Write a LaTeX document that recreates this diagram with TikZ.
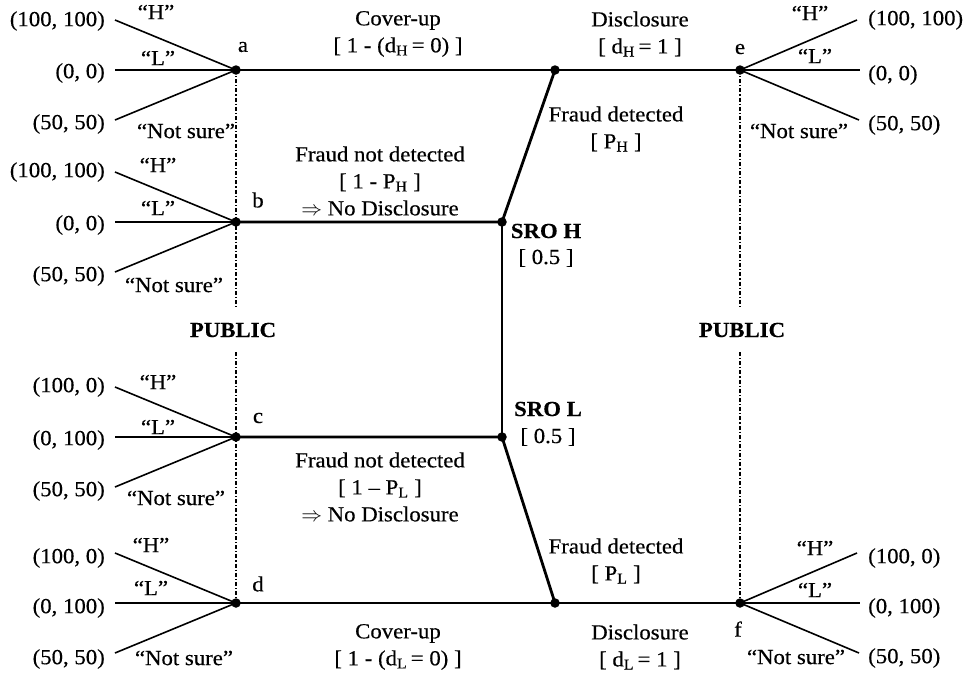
\documentclass[tikz,border=0pt]{standalone}
\usepackage{fontspec}
\usetikzlibrary{calc}
\setmainfont[FakeStretch=1.06,FakeBold=0.4]{Liberation Serif}
\newcommand{\sbs}[1]{\textsubscript{#1}}
\begin{document}
\begin{tikzpicture}[x=1pt,y=-1pt,
  dotn/.style={circle,fill=black,inner sep=0pt,minimum size=9.5pt},
  mainln/.style={line width=2.8pt},
  fanln/.style={line width=1.6pt},
  publn/.style={dash pattern=on 4pt off 2pt on 1.2pt off 2pt,line width=1.2pt},
  lbl/.style={font=\fontsize{21.5}{27}\selectfont,align=center,inner sep=0pt},
  bl/.style={lbl,font=\fontsize{21.5}{27}\selectfont\bfseries}]
\useasboundingbox (0,0) rectangle (970,678);
% decision nodes
\node[dotn] (a) at (236,70) {};
\node[dotn] (b) at (236,222) {};
\node[dotn] (c) at (236,437) {};
\node[dotn] (d) at (236,603) {};
\node[dotn] (e) at (740,70) {};
\node[dotn] (f) at (740,603) {};
\node[dotn] (ju) at (555,70) {};
\node[dotn] (sh) at (502,222) {};
\node[dotn] (sl) at (502,437) {};
\node[dotn] (jl) at (555,603) {};
% main tree
\draw[mainln] (a.center) -- (ju.center) -- (e.center);
\draw[mainln] (b.center) -- (sh.center) -- (ju.center);
\draw[mainln] (sh.center) -- (sl.center);
\draw[mainln] (c.center) -- (sl.center) -- (jl.center);
\draw[mainln] (d.center) -- (jl.center) -- (f.center);
% PUBLIC
\node[bl] (pubL) at (233,330) {PUBLIC};
\node[bl] (pubR) at (742,330) {PUBLIC};
\draw[publn] (a.center) -- (a.center |- 0,308);
\draw[publn] (a.center |- 0,352) -- (d.center);
\draw[publn] (e.center) -- (e.center |- 0,308);
\draw[publn] (e.center |- 0,352) -- (f.center);
% fans
\foreach \n in {a,b,c,d}{
  \coordinate (\n H) at ($(\n.center)+(-121,-50)$);
  \coordinate (\n L) at ($(\n.center)+(-121,0)$);
  \coordinate (\n N) at ($(\n.center)+(-121,50)$);
  \draw[fanln] (\n.center) -- (\n H);
  \draw[fanln] (\n.center) -- (\n L);
  \draw[fanln] (\n.center) -- (\n N);
}
\foreach \n in {e,f}{
  \coordinate (\n H) at ($(\n.center)+(117,-50)$);
  \coordinate (\n L) at ($(\n.center)+(120,0)$);
  \coordinate (\n N) at ($(\n.center)+(119,50)$);
  \draw[fanln] (\n.center) -- (\n H);
  \draw[fanln] (\n.center) -- (\n L);
  \draw[fanln] (\n.center) -- (\n N);
}
% node letters
\node[lbl] (la) at (243,47) {a};
\node[lbl] (lb) at (258,200) {b};
\node[lbl] (lc) at (258,418) {c};
\node[lbl] (ld) at (258,584) {d};
\node[lbl] (le) at (740,49) {e};
\node[lbl] (lf) at (738,629) {f};
% branch labels
\node[lbl] (cuH) at (398,34) {Cover-up\\{}[ 1 - (d\sbs{H}\,= 0) ]};
\node[lbl] (diH) at (640,34) {Disclosure\\{}[ d\sbs{H}\,= 1 ]};
\node[lbl] (fdH) at (616,129) {Fraud detected\\{}[ P\sbs{H} ]};
\node[lbl] (fnH) at (380,181) {Fraud not detected\\{}[ 1 - P\sbs{H} ]\\$\Rightarrow$ No Disclosure};
\node[bl] (srH) at (546,231) {SRO H};
\node[lbl] (prH) at (546,258) {[ 0.5 ]};
\node[bl] (srL) at (548,409) {SRO L};
\node[lbl] (prL) at (548,437) {[ 0.5 ]};
\node[lbl] (fnL) at (380,487) {Fraud not detected\\{}[ 1 – P\sbs{L} ]\\$\Rightarrow$ No Disclosure};
\node[lbl] (fdL) at (616,561) {Fraud detected\\{}[ P\sbs{L} ]};
\node[lbl] (cuL) at (398,647) {Cover-up\\{}[ 1 - (d\sbs{L}\,= 0) ]};
\node[lbl] (diL) at (640,647) {Disclosure\\{}[ d\sbs{L}\,= 1 ]};
% fan choice labels (left)
\node[lbl] at (156,12) {“H”};
\node[lbl] at (158,58) {“L”};
\node[lbl] at (186,131) {“Not sure”};
\node[lbl] at (158,165) {“H”};
\node[lbl] at (158,208) {“L”};
\node[lbl] at (174,285) {“Not sure”};
\node[lbl] at (158,382) {“H”};
\node[lbl] at (158,427) {“L”};
\node[lbl] at (176,498) {“Not sure”};
\node[lbl] at (151,545) {“H”};
\node[lbl] at (151,588) {“L”};
\node[lbl] at (184,658) {“Not sure”};
% fan choice labels (right)
\node[lbl] at (810,13) {“H”};
\node[lbl] at (815,56) {“L”};
\node[lbl] at (799,131) {“Not sure”};
\node[lbl] at (815,548) {“H”};
\node[lbl] at (815,590) {“L”};
\node[lbl] at (796,657) {“Not sure”};
% payoffs left
\node[lbl,anchor=east] at ($(aH)+(-10,1)$) {(100, 100)};
\node[lbl,anchor=east] at ($(aL)+(-10,3)$) {(0, 0)};
\node[lbl,anchor=east] at ($(aN)+(-10,4)$) {(50, 50)};
\node[lbl,anchor=east] at ($(bH)+(-10,0)$) {(100, 100)};
\node[lbl,anchor=east] at ($(bL)+(-10,3)$) {(0, 0)};
\node[lbl,anchor=east] at ($(bN)+(-10,4)$) {(50, 50)};
\node[lbl,anchor=east] at ($(cH)+(-10,0)$) {(100, 0)};
\node[lbl,anchor=east] at ($(cL)+(-10,3)$) {(0, 100)};
\node[lbl,anchor=east] at ($(cN)+(-10,4)$) {(50, 50)};
\node[lbl,anchor=east] at ($(dH)+(-10,5)$) {(100, 0)};
\node[lbl,anchor=east] at ($(dL)+(-10,5)$) {(0, 100)};
\node[lbl,anchor=east] at ($(dN)+(-10,6)$) {(50, 50)};
% payoffs right
\node[lbl,anchor=west] at (868,20) {(100, 100)};
\node[lbl,anchor=west] at (868,75) {(0, 0)};
\node[lbl,anchor=west] at (868,125) {(50, 50)};
\node[lbl,anchor=west] at (868,558) {(100, 0)};
\node[lbl,anchor=west] at (868,608) {(0, 100)};
\node[lbl,anchor=west] at (868,658) {(50, 50)};
\end{tikzpicture}
\end{document}
